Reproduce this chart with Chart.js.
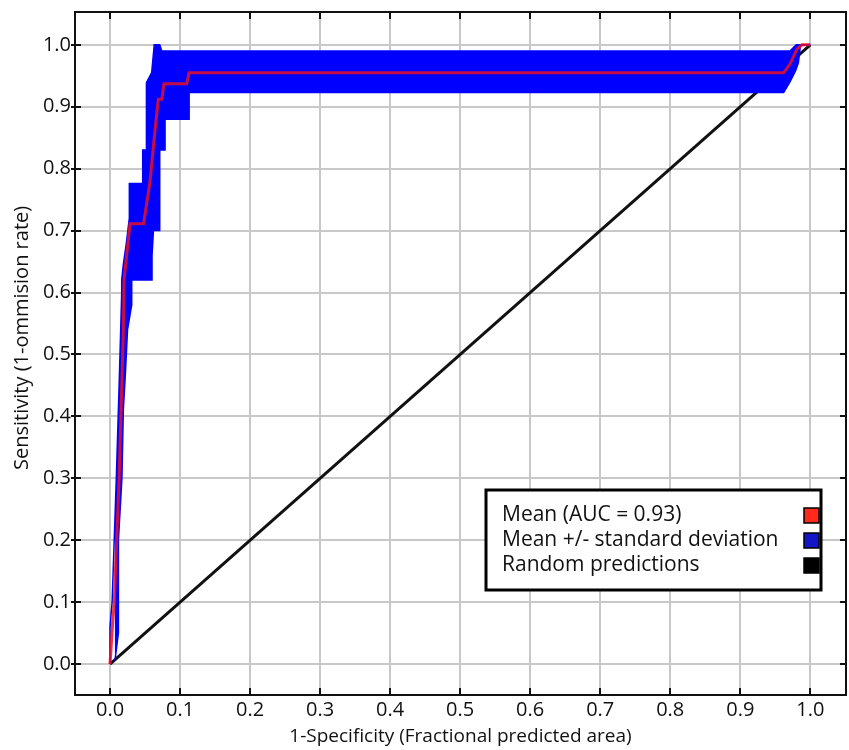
<!DOCTYPE html>
<html>
<head>
<meta charset="utf-8">
<script src="https://cdn.jsdelivr.net/npm/chart.js@4.4.1/dist/chart.umd.min.js"></script>
<style>
  html, body { margin: 0; padding: 0; background: #fff; }
</style>
</head>
<body>
<canvas id="roc" width="849" height="750"></canvas>
<script>
// Mean ROC curve (red)
const meanX = [0, 0.004, 0.006, 0.013, 0.019, 0.020, 0.0286, 0.048, 0.057, 0.064, 0.069, 0.074, 0.077, 0.1095, 0.113, 0.962, 0.971, 0.981, 0.988, 1.0];
const meanY = [0, 0.07, 0.098, 0.30, 0.537, 0.62, 0.711, 0.711, 0.778, 0.859, 0.912, 0.912, 0.937, 0.937, 0.955, 0.955, 0.969, 0.993, 1.0, 1.0];

// Mean + standard deviation (top/left edge of blue band)
const upperX = [0, 0, 0.003, 0.009, 0.013, 0.0155, 0.0167, 0.0167, 0.019, 0.023, 0.0276, 0.0276, 0.0467, 0.0467, 0.052, 0.052, 0.0595, 0.063, 0.063, 0.071, 0.074, 0.971, 0.98, 1.0];
const upperY = [0, 0.06, 0.1, 0.3, 0.45, 0.55, 0.60, 0.62, 0.645, 0.677, 0.72, 0.776, 0.776, 0.83, 0.83, 0.939, 0.955, 0.998, 1.0, 1.0, 0.99, 0.99, 1.0, 1.0];

// Mean - standard deviation (bottom/right edge of blue band)
const lowerX = [0.007, 0.012, 0.012, 0.017, 0.019, 0.022, 0.025, 0.031, 0.031, 0.06, 0.06, 0.062, 0.071, 0.071, 0.0786, 0.0786, 0.113, 0.113, 0.962, 0.971, 0.979, 0.983, 0.986, 1.0];
const lowerY = [0.005, 0.05, 0.2, 0.3, 0.41, 0.47, 0.54, 0.58, 0.62, 0.62, 0.66, 0.70, 0.70, 0.83, 0.83, 0.88, 0.88, 0.923, 0.923, 0.94, 0.958, 0.971, 0.999, 1.0];

// Random predictions (diagonal)
const randX = [0, 1];
const randY = [0, 1];

const tickVals = [0, 0.1, 0.2, 0.3, 0.4, 0.5, 0.6, 0.7, 0.8, 0.9, 1.0];
const tickLabels = ['0.0', '0.1', '0.2', '0.3', '0.4', '0.5', '0.6', '0.7', '0.8', '0.9', '1.0'];

const legendLabels = ['Mean (AUC = 0.93)', 'Mean +/- standard deviation', 'Random predictions'];
const legendColors = ['#ff2a1a', '#1414c8', '#000000'];

const FONT = '"Open Sans", "DejaVu Sans", sans-serif';

function toPoints(xs, ys) {
    return xs.map((x, i) => ({x: x, y: ys[i]}));
}

// frame + inward tick marks on all four sides
const framePlugin = {
    id: 'frame',
    afterDatasetsDraw(chart) {
        const ctx = chart.ctx;
        const a = chart.chartArea;
        const xs = chart.scales.x, ys = chart.scales.y;
        ctx.save();
        ctx.strokeStyle = '#111';
        ctx.lineWidth = 2;
        ctx.beginPath();
        tickVals.forEach(v => {
            const px = Math.round(xs.getPixelForValue(v));
            ctx.moveTo(px, a.bottom); ctx.lineTo(px, a.bottom - 7);
            ctx.moveTo(px, a.top); ctx.lineTo(px, a.top + 7);
            const py = Math.round(ys.getPixelForValue(v));
            ctx.moveTo(a.left, py); ctx.lineTo(a.left + 6, py);
            ctx.moveTo(a.right, py); ctx.lineTo(a.right - 6, py);
        });
        ctx.stroke();
        ctx.strokeRect(a.left, a.top, a.right - a.left, a.bottom - a.top);
        ctx.restore();
    }
};

// boxed legend, swatches on the right
const boxLegend = {
    id: 'boxLegend',
    afterDraw(chart) {
        const ctx = chart.ctx;
        const bx = 486, by = 490, bw = 335, bh = 100;
        ctx.save();
        ctx.fillStyle = '#fff';
        ctx.fillRect(bx, by, bw, bh);
        ctx.strokeStyle = '#000';
        ctx.lineWidth = 3;
        ctx.strokeRect(bx, by, bw, bh);
        ctx.font = '21px ' + FONT;
        ctx.textBaseline = 'middle';
        legendLabels.forEach((lab, i) => {
            const cy = by + 25 + i * 25;
            ctx.fillStyle = '#111';
            ctx.fillText(lab, bx + 16, cy);
            ctx.fillStyle = legendColors[i];
            ctx.fillRect(bx + 318, cy - 7, 15, 15);
            ctx.lineWidth = 1.5;
            ctx.strokeRect(bx + 318, cy - 7, 15, 15);
        });
        ctx.restore();
    }
};

const ctx = document.getElementById('roc').getContext('2d');
const rocChart = new Chart(ctx, {
    type: 'scatter',
    data: {
        datasets: [
            {
                label: 'Mean',
                data: toPoints(meanX, meanY),
                showLine: true,
                borderColor: 'rgba(235, 15, 35, 0.85)',
                borderWidth: 3,
                pointRadius: 0,
                fill: false,
                order: 0
            },
            {
                label: 'Mean + sd',
                data: toPoints(upperX, upperY),
                showLine: true,
                borderColor: '#0000ff',
                backgroundColor: '#0000ff',
                borderWidth: 1.5,
                pointRadius: 0,
                fill: '+1',
                order: 1
            },
            {
                label: 'Mean - sd',
                data: toPoints(lowerX, lowerY),
                showLine: true,
                borderColor: '#0000ff',
                borderWidth: 1.5,
                pointRadius: 0,
                fill: false,
                order: 1
            },
            {
                label: 'Random',
                data: toPoints(randX, randY),
                showLine: true,
                borderColor: '#111',
                borderWidth: 3,
                pointRadius: 0,
                fill: false,
                order: 2
            }
        ]
    },
    options: {
        responsive: false,
        animation: false,
        layout: { padding: { top: 9, right: 3, left: 0, bottom: 0 } },
        plugins: {
            legend: { display: false },
            tooltip: { enabled: false }
        },
        scales: {
            x: {
                type: 'linear',
                min: -0.05,
                max: 1.051,
                afterBuildTicks: s => { s.ticks = tickVals.map(v => ({value: v})); },
                afterFit: s => { s.height = 55; },
                grid: { color: '#c8c8c8', lineWidth: 2, drawTicks: false },
                border: { color: '#111', width: 2 },
                ticks: {
                    callback: (v, i) => tickLabels[i],
                    font: { family: FONT, size: 20 },
                    color: '#111',
                    padding: 3,
                    maxRotation: 0,
                    autoSkip: false
                },
                title: {
                    display: true,
                    text: '1-Specificity (Fractional predicted area)',
                    font: { family: FONT, size: 19 },
                    color: '#111',
                    padding: { top: 2, bottom: 2 }
                }
            },
            y: {
                type: 'linear',
                min: -0.05,
                max: 1.053,
                afterBuildTicks: s => { s.ticks = tickVals.map(v => ({value: v})); },
                afterFit: s => { s.width = 75; },
                grid: { color: '#c8c8c8', lineWidth: 2, tickLength: 4, tickColor: '#111', tickWidth: 2 },
                border: { color: '#111', width: 2 },
                ticks: {
                    callback: (v, i) => tickLabels[i],
                    font: { family: FONT, size: 20 },
                    color: '#111',
                    padding: 0,
                    autoSkip: false
                },
                title: {
                    display: true,
                    // leading spaces nudge the centred title up like the original
                    text: '      Sensitivity (1-ommision rate)',
                    font: { family: FONT, size: 20 },
                    color: '#111',
                    padding: { top: 10, bottom: 0 }
                }
            }
        }
    },
    plugins: [framePlugin, boxLegend]
});
</script>
</body>
</html>
